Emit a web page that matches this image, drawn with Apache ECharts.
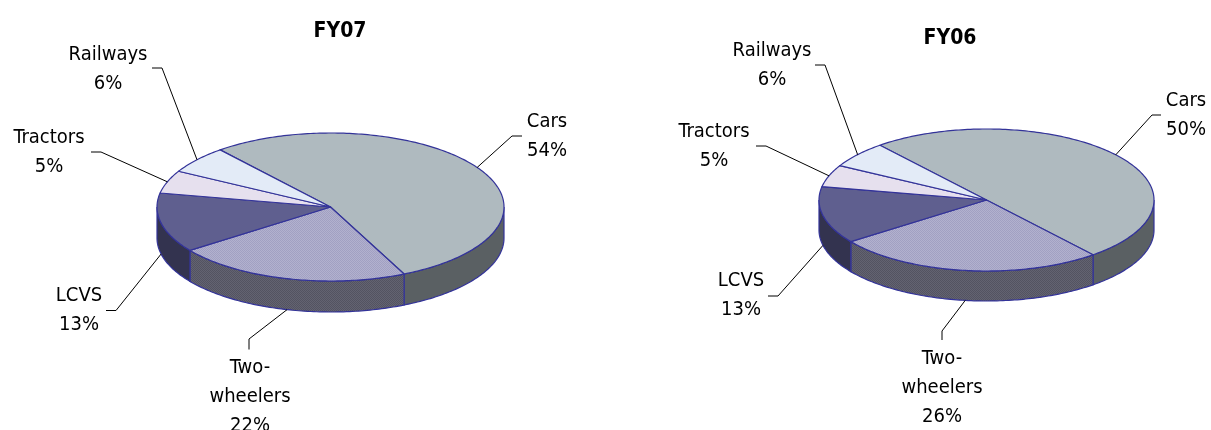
<!DOCTYPE html>
<html><head><meta charset="utf-8"><style>html,body{margin:0;padding:0;background:#fff;overflow:hidden}#c{width:1211px;height:430px}</style>
<script src="https://cdn.jsdelivr.net/npm/echarts@6/dist/echarts.min.js"></script></head>
<body><div id="c"></div>
<script>
// Data
const categories = ['Cars', 'Two-wheelers', 'LCVS', 'Tractors', 'Railways'];
const labelLines = [['Cars'], ['Two-', 'wheelers'], ['LCVS'], ['Tractors'], ['Railways']];
const fy07Values = [54, 22, 13, 5, 6];
const fy06Values = [50, 26, 13, 5, 6];

function pat(a, b) {
  const cv = document.createElement('canvas'); cv.width = 2; cv.height = 2;
  const g = cv.getContext('2d');
  g.fillStyle = a; g.fillRect(0, 0, 2, 2);
  g.fillStyle = b; g.fillRect(0, 0, 1, 1); g.fillRect(1, 1, 1, 1);
  return { image: cv, repeat: 'repeat' };
}
const topFill = ['#AFBABF', pat('#B2B1CE', '#A1A0C2'), '#5F5F8F', '#E6E0EE', '#E3EBF7'];
const sideFill = ['#5A6063', pat('#636371', '#535361'), '#33334F', '#8A8690', '#888C94'];
const EDGE = '#333399';
const START_DEG = -39.5;
const FONT = '"DejaVu Sans Condensed","DejaVu Sans",sans-serif';

const pies = [
  { name: 'FY07', values: fy07Values, cx: 330.5, cy: 207, rx: 173.5, ry: 74, depth: 31,
    leaders: [
      { elbow: [512, 136], end: [522, 136], text: [547, 122] },
      { elbow: [249, 339], end: [249, 349.5], text: [250, 368] },
      { elbow: [116, 310.5], end: [106, 310.5], text: [79, 296] },
      { elbow: [101, 152], end: [91, 152], text: [49, 138] },
      { elbow: [162, 68], end: [152, 68], text: [108, 55] }
    ] },
  { name: 'FY06', values: fy06Values, cx: 986.5, cy: 200, rx: 167.5, ry: 71, depth: 30,
    leaders: [
      { elbow: [1152, 115], end: [1161, 115], text: [1186, 100.5] },
      { elbow: [942, 331], end: [942, 340], text: [942, 359] },
      { elbow: [778, 296], end: [768, 296], text: [741, 281] },
      { elbow: [766, 146], end: [756, 146], text: [714, 132] },
      { elbow: [825, 65], end: [815, 65], text: [772, 51] }
    ] }
];

function makeSeries(p) {
  const total = p.values.reduce((a, b) => a + b, 0);
  return {
    type: 'custom', name: p.name, coordinateSystem: 'none', silent: true, clip: false,
    data: p.values.map((v, i) => [v, i]),
    renderItem(params, api) {
      const i = api.value(1), v = api.value(0);
      let before = 0;
      for (let k = 0; k < i; k++) before += p.values[k];
      const a0 = START_DEG + before / total * 360, a1 = a0 + v / total * 360;
      const pt = (deg, dy) => {
        const r = deg * Math.PI / 180;
        return [p.cx + p.rx * Math.sin(r), p.cy - p.ry * Math.cos(r) + (dy || 0)];
      };
      const arc = (s, e, dy) => {
        const out = [], n = Math.max(4, Math.ceil(e - s));
        for (let j = 0; j <= n; j++) out.push(pt(s + (e - s) * j / n, dy));
        return out;
      };
      const children = [];
      const f0 = Math.max(a0, 90), f1 = Math.min(a1, 270);
      if (f1 > f0) {
        children.push({
          type: 'polygon', z2: 1,
          shape: { points: arc(f0, f1, 0).concat(arc(f0, f1, p.depth).reverse()) },
          style: { fill: sideFill[i], stroke: EDGE, lineWidth: 1.2 }
        });
      }
      children.push({
        type: 'polygon', z2: 2,
        shape: { points: [[p.cx, p.cy]].concat(arc(a0, a1, 0)) },
        style: { fill: topFill[i], stroke: EDGE, lineWidth: 1.2, lineJoin: 'round' }
      });
      const mid = (a0 + a1) / 2;
      const midN = ((mid % 360) + 360) % 360;
      const start = pt(mid, midN > 90 && midN < 270 ? p.depth : 0);
      const L = p.leaders[i];
      children.push({
        type: 'polyline', z2: 3,
        shape: { points: [start, L.elbow, L.end] },
        style: { fill: null, stroke: '#000', lineWidth: 1 }
      });
      labelLines[i].concat([v + '%']).forEach((t, n) => {
        children.push({
          type: 'text', z2: 4,
          style: {
            text: t, x: L.text[0], y: L.text[1] + n * 28.8,
            align: 'center', verticalAlign: 'middle',
            fontFamily: FONT, fontSize: 20, fill: '#000'
          }
        });
      });
      return { type: 'group', children };
    }
  };
}
const chart = echarts.init(document.getElementById('c'));
chart.setOption({
  animation: false,
  backgroundColor: '#fff',
  title: [
    { text: 'FY07', left: 335, top: 27, textAlign: 'center', textVerticalAlign: 'middle',
      textStyle: { fontFamily: FONT, fontSize: 21, fontWeight: 'bold', color: '#000' } },
    { text: 'FY06', left: 945, top: 34, textAlign: 'center', textVerticalAlign: 'middle',
      textStyle: { fontFamily: FONT, fontSize: 21, fontWeight: 'bold', color: '#000' } }
  ],
  series: pies.map(makeSeries)
});
</script></body></html>
